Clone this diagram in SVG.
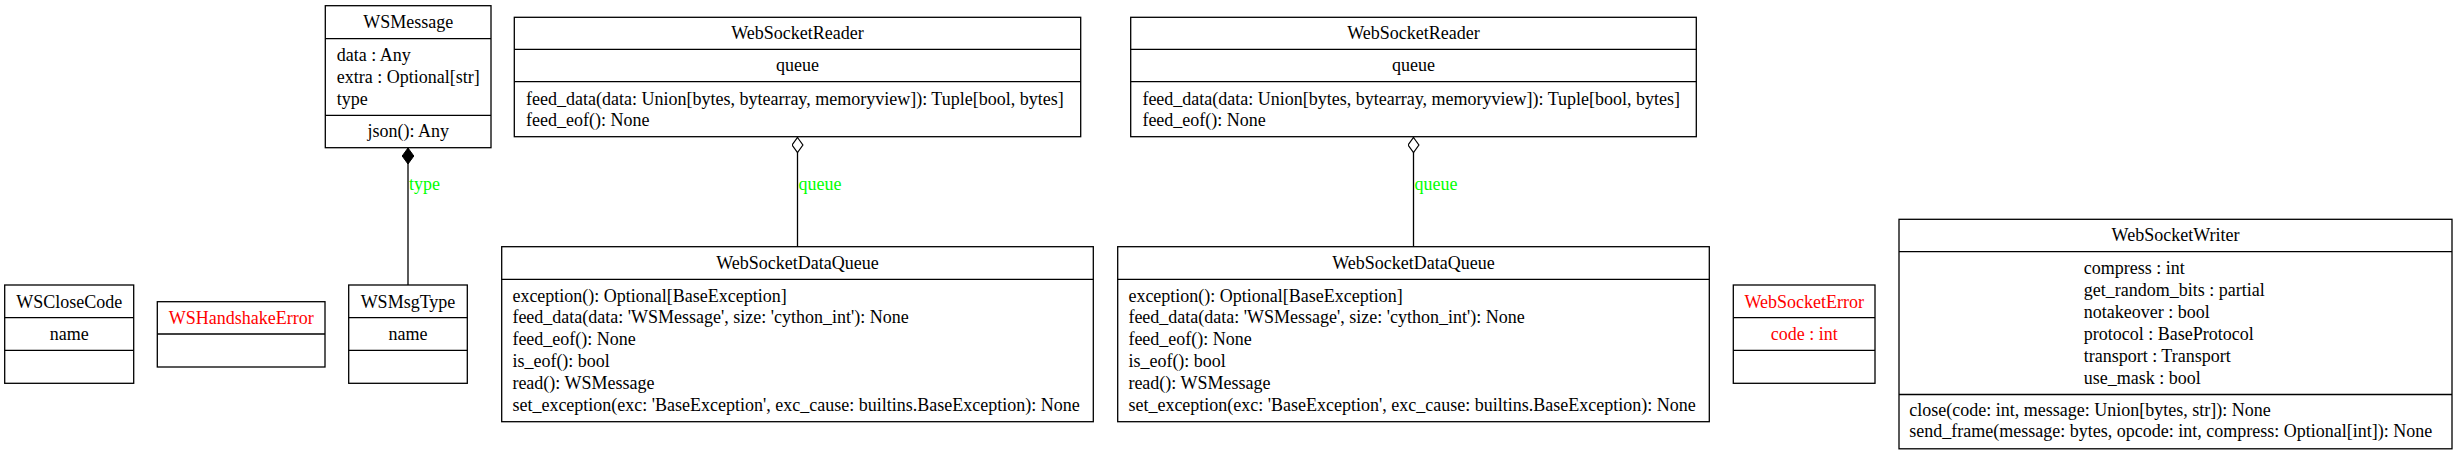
<svg xmlns="http://www.w3.org/2000/svg" width="2456" height="455" viewBox="0 0 2456 455">
<style>
text{font-family:"Liberation Serif","Times New Roman",serif;font-size:18px;fill:#000}
.c{text-anchor:middle}
.red{fill:#ff0000}
.lbl{fill:#00ff00}
.box{fill:#fff;stroke:#000;stroke-width:1.3}
.sep{stroke:#000;stroke-width:1.3}
.edge{stroke:#000;stroke-width:1.3;fill:none}
</style>
<defs>
<marker id="diaFilled" viewBox="0 0 16 12" refX="0" refY="6" markerWidth="16" markerHeight="12" markerUnits="userSpaceOnUse" orient="auto">
<path d="M0,6 L8,0.2 L16,6 L8,11.8 Z" fill="#000" stroke="#000" stroke-width="1"/>
</marker>
<marker id="diaOpen" viewBox="0 0 16 12" refX="0" refY="6" markerWidth="16" markerHeight="12" markerUnits="userSpaceOnUse" orient="auto">
<path d="M0.5,6 L8,0.6 L15.5,6 L8,11.4 Z" fill="#fff" stroke="#000" stroke-width="1.2"/>
</marker>
</defs>
<rect width="2456" height="455" fill="#fff"/>

<g id="connectors">
<path class="edge" d="M408,148 L408,285" marker-start="url(#diaFilled)"/>
<text class="lbl" x="409" y="189.5">type</text>
<path class="edge" d="M797.5,137 L797.5,246.7" marker-start="url(#diaOpen)"/>
<text class="lbl" x="798.5" y="189.5">queue</text>
<path class="edge" d="M1413.5,137 L1413.5,246.7" marker-start="url(#diaOpen)"/>
<text class="lbl" x="1414.5" y="189.5">queue</text>
</g>

<g id="WSMessage">
<rect class="box" x="325.3" y="5.7" width="165.7" height="142"/>
<line class="sep" x1="325.3" y1="38.7" x2="491" y2="38.7"/>
<line class="sep" x1="325.3" y1="115.3" x2="491" y2="115.3"/>
<text class="c" x="408.2" y="28">WSMessage</text>
<text x="336.7" y="61">data : Any</text>
<text x="336.7" y="83">extra : Optional[str]</text>
<text x="336.7" y="105">type</text>
<text class="c" x="408.2" y="137">json(): Any</text>
</g>

<g id="WSCloseCode">
<rect class="box" x="4.7" y="285" width="129" height="98.3"/>
<line class="sep" x1="4.7" y1="317.7" x2="133.7" y2="317.7"/>
<line class="sep" x1="4.7" y1="350.3" x2="133.7" y2="350.3"/>
<text class="c" x="69.2" y="307.5">WSCloseCode</text>
<text class="c" x="69.2" y="340">name</text>
</g>

<g id="WSHandshakeError">
<rect class="box" x="157.3" y="301.7" width="167.7" height="65.3"/>
<line class="sep" x1="157.3" y1="334" x2="325" y2="334"/>
<text class="c red" x="241.2" y="324">WSHandshakeError</text>
</g>

<g id="WSMsgType">
<rect class="box" x="348.7" y="285" width="118.6" height="98.3"/>
<line class="sep" x1="348.7" y1="317.7" x2="467.3" y2="317.7"/>
<line class="sep" x1="348.7" y1="350.3" x2="467.3" y2="350.3"/>
<text class="c" x="408" y="307.5">WSMsgType</text>
<text class="c" x="408" y="340">name</text>
</g>

<g id="WebSocketReader1">
<rect class="box" x="514.3" y="17.3" width="566.4" height="119.4"/>
<line class="sep" x1="514.3" y1="49.3" x2="1080.7" y2="49.3"/>
<line class="sep" x1="514.3" y1="81.7" x2="1080.7" y2="81.7"/>
<text class="c" x="797.5" y="39.3">WebSocketReader</text>
<text class="c" x="797.5" y="71">queue</text>
<text x="526" y="104.5">feed_data(data: Union[bytes, bytearray, memoryview]): Tuple[bool, bytes]</text>
<text x="526" y="126">feed_eof(): None</text>
</g>

<g id="WebSocketDataQueue1">
<rect class="box" x="501.7" y="246.7" width="591.6" height="175"/>
<line class="sep" x1="501.7" y1="279.3" x2="1093.3" y2="279.3"/>
<text class="c" x="797.5" y="268.5">WebSocketDataQueue</text>
<text x="512.4" y="301.5">exception(): Optional[BaseException]</text>
<text x="512.4" y="323.3">feed_data(data: 'WSMessage', size: 'cython_int'): None</text>
<text x="512.4" y="345.1">feed_eof(): None</text>
<text x="512.4" y="366.9">is_eof(): bool</text>
<text x="512.4" y="388.7">read(): WSMessage</text>
<text x="512.4" y="410.5">set_exception(exc: 'BaseException', exc_cause: builtins.BaseException): None</text>
</g>

<g id="WebSocketReader2">
<rect class="box" x="1130.7" y="17.3" width="565.6" height="119.4"/>
<line class="sep" x1="1130.7" y1="49.3" x2="1696.3" y2="49.3"/>
<line class="sep" x1="1130.7" y1="81.7" x2="1696.3" y2="81.7"/>
<text class="c" x="1413.5" y="39.3">WebSocketReader</text>
<text class="c" x="1413.5" y="71">queue</text>
<text x="1142.4" y="104.5">feed_data(data: Union[bytes, bytearray, memoryview]): Tuple[bool, bytes]</text>
<text x="1142.4" y="126">feed_eof(): None</text>
</g>

<g id="WebSocketDataQueue2">
<rect class="box" x="1117.7" y="246.7" width="591.6" height="175"/>
<line class="sep" x1="1117.7" y1="279.3" x2="1709.3" y2="279.3"/>
<text class="c" x="1413.5" y="268.5">WebSocketDataQueue</text>
<text x="1128.4" y="301.5">exception(): Optional[BaseException]</text>
<text x="1128.4" y="323.3">feed_data(data: 'WSMessage', size: 'cython_int'): None</text>
<text x="1128.4" y="345.1">feed_eof(): None</text>
<text x="1128.4" y="366.9">is_eof(): bool</text>
<text x="1128.4" y="388.7">read(): WSMessage</text>
<text x="1128.4" y="410.5">set_exception(exc: 'BaseException', exc_cause: builtins.BaseException): None</text>
</g>

<g id="WebSocketError">
<rect class="box" x="1733.3" y="285" width="141.7" height="98.3"/>
<line class="sep" x1="1733.3" y1="317.7" x2="1875" y2="317.7"/>
<line class="sep" x1="1733.3" y1="350.3" x2="1875" y2="350.3"/>
<text class="c red" x="1804.2" y="307.5">WebSocketError</text>
<text class="c red" x="1804.2" y="340">code : int</text>
</g>

<g id="WebSocketWriter">
<rect class="box" x="1899" y="219.3" width="553" height="229.5"/>
<line class="sep" x1="1899" y1="251.7" x2="2452" y2="251.7"/>
<line class="sep" x1="1899" y1="394.5" x2="2452" y2="394.5"/>
<text class="c" x="2175.5" y="241">WebSocketWriter</text>
<text x="2083.7" y="274">compress : int</text>
<text x="2083.7" y="296">get_random_bits : partial</text>
<text x="2083.7" y="318">notakeover : bool</text>
<text x="2083.7" y="340">protocol : BaseProtocol</text>
<text x="2083.7" y="362">transport : Transport</text>
<text x="2083.7" y="384">use_mask : bool</text>
<text x="1909.3" y="415.5">close(code: int, message: Union[bytes, str]): None</text>
<text x="1909.3" y="437">send_frame(message: bytes, opcode: int, compress: Optional[int]): None</text>
</g>
</svg>
